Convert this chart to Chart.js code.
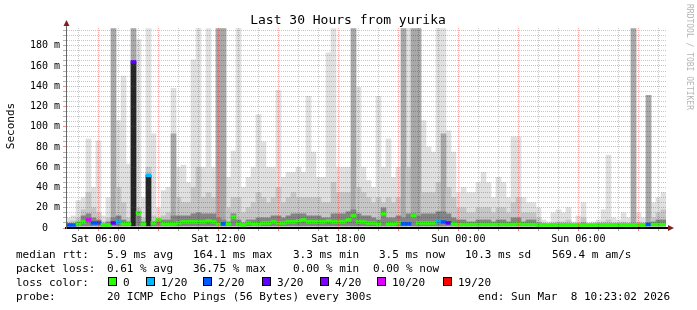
<!DOCTYPE html>
<html>
<head>
<meta charset="utf-8">
<script src="https://cdn.jsdelivr.net/npm/chart.js@4.4.1/dist/chart.umd.min.js"></script>
<style>
  html, body { margin: 0; padding: 0; background: #fff; overflow: hidden; }
  canvas { display: block; }
</style>
</head>
<body>
<canvas id="smokeChart" width="697" height="310"></canvas>
<script>
// Smoke data, one value per 15 minute bin (30 hours = 120 bins), in ms
const maxRtt = [
  10, 12, 27, 30, 88, 40, 86, 12, 30, 197, 106, 150, 63, 197, 186, 30, 197, 93, 20, 37, 40, 138, 60, 62, 45, 166, 197, 60, 197, 60,
  197, 197, 50, 76, 197, 40, 50, 60, 112, 85, 60, 60, 136, 50, 55, 55, 60, 55, 130, 75, 50, 50, 173, 197, 60, 60, 60, 197, 139, 60,
  47, 40, 130, 60, 88, 50, 60, 197, 197, 197, 197, 106, 80, 75, 197, 197, 96, 75, 35, 40, 35, 35, 45, 55, 45, 30, 50, 45, 30, 90,
  90, 30, 25, 25, 20, 8, 6, 15, 18, 15, 20, 6, 12, 25, 5, 6, 8, 18, 72, 10, 8, 15, 10, 197, 15, 10, 131, 25, 30, 35
];
const midRtt = [
  6, 7, 10, 18, 35, 20, 15, 6, 10, 197, 40, 25, 10, 197, 20, 10, 60, 12, 10, 12, 15, 93, 30, 25, 25, 40, 60, 30, 35, 30,
  197, 197, 20, 30, 30, 15, 20, 25, 35, 30, 25, 30, 40, 25, 30, 35, 30, 30, 30, 30, 30, 25, 25, 45, 35, 35, 35, 197, 40, 35,
  30, 25, 30, 25, 30, 25, 30, 197, 60, 197, 197, 35, 35, 35, 45, 93, 40, 30, 20, 20, 15, 15, 20, 20, 20, 15, 20, 20, 15, 25,
  30, 15, 15, 15, 10, 5, 4, 5, 6, 6, 8, 4, 5, 10, 3.5, 4, 5, 6, 8, 5, 5, 6, 5, 197, 6, 5, 131, 10, 15, 18
];
const darkRtt = [
  4, 4, 6, 12, 14, 10, 8, 4, 6, 10, 12, 8, 6, 164, 12, 6, 52, 6, 8, 8, 8, 12, 12, 12, 12, 14, 15, 14, 14, 14,
  10, 8, 6, 14, 8, 5, 8, 8, 10, 10, 10, 12, 12, 10, 12, 14, 14, 14, 12, 12, 12, 10, 10, 14, 14, 14, 16, 18, 14, 12,
  12, 10, 8, 20, 10, 10, 12, 10, 14, 14, 12, 14, 14, 14, 16, 16, 14, 10, 8, 8, 6, 6, 8, 8, 8, 6, 8, 8, 6, 10,
  10, 6, 8, 8, 5, 4, 3, 4, 4, 4, 4, 3, 4, 5, 3, 3, 4, 4, 4, 4, 4, 4, 4, 4, 4, 4, 5, 6, 8, 8
];
const medianRtt = [
  3, 3, 4, 6, 8, 5, 5, 3, 3, 5, 6, 4, 4, 164, 15, 4, 52, 5, 8, 4, 4, 4, 5, 6, 6, 6, 6, 6, 7, 6,
  4, 4, 4, 11, 4, 3, 5, 4, 4, 5, 5, 6, 5, 5, 6, 6, 7, 8, 6, 6, 6, 6, 7, 6, 6, 6, 8, 12, 6, 6,
  5, 5, 4, 14, 4, 4, 5, 4, 4, 12, 5, 5, 5, 5, 7, 6, 5, 4, 3.5, 3.5, 3.5, 3.5, 3.5, 3.5, 3.5, 3.5, 3.5, 3.5, 3.5, 3.5,
  4, 3.5, 3.5, 3.5, 3, 3, 3, 3, 3, 3, 3, 3, 3, 3, 3, 3, 3, 3, 3, 3, 3, 3, 3, 3, 3, 3, 3.5, 3.5, 3.5, 3.5
];
// index into lossColors for each bin
const lossLevel = [
  2, 2, 0, 0, 5, 2, 2, 0, 0, 3, 1, 0, 0, 3, 0, 0, 1, 0, 0, 0, 0, 0, 0, 0, 0, 0, 0, 0, 0, 0,
  0, 2, 0, 0, 0, 0, 0, 0, 0, 0, 0, 0, 0, 0, 0, 0, 0, 0, 0, 0, 0, 0, 0, 0, 0, 0, 0, 0, 0, 0,
  0, 0, 0, 0, 0, 0, 0, 2, 2, 0, 0, 0, 0, 0, 1, 2, 3, 0, 0, 0, 0, 0, 0, 0, 0, 0, 0, 0, 0, 0,
  0, 0, 0, 0, 0, 0, 0, 0, 0, 0, 0, 0, 0, 0, 0, 0, 0, 0, 0, 0, 0, 0, 0, 0, 0, 0, 2, 0, 0, 0
];
const lossColors = ["#26ff00", "#00b8ff", "#0059ff", "#5e00ff", "#7e00ff", "#dd00ff", "#ff0000"];
const lossLabels = ["0", "1/20", "2/20", "3/20", "4/20", "10/20", "19/20"];
const xTickLabels = ["Sat 06:00", "Sat 12:00", "Sat 18:00", "Sun 00:00", "Sun 06:00"];

// time axis: minutes since start (Sat 04:23:02), 30 hours
const BIN = 15;
const SPAN = 1800;
const firstHour = 60 - 23 - 2 / 60; // minutes until Sat 05:00
const binX = maxRtt.map((_, i) => i * BIN + BIN / 2);
const hourTicks = [];
for (let k = 0; k < 30; k++) hourTicks.push(firstHour + 60 * k);
const hourOf = (v) => 5 + Math.round((v - firstHour) / 60);

const Y_MAX = 197.5;
const yTicks = [];
for (let v = 0; v < Y_MAX; v += 5) yTicks.push(v);

const mono = "'DejaVu Sans Mono', monospace";
Chart.defaults.font.family = mono;
Chart.defaults.color = "#000";

const pts = (arr) => arr.map((v, i) => ({ x: binX[i], y: v }));
const barCommon = {
  type: "bar",
  base: 2,
  borderWidth: 0,
  barPercentage: 1,
  categoryPercentage: 1,
  grouped: false,
};

const overlay = {
  id: "overlay",
  afterDraw(chart) {
    const ctx = chart.ctx;
    const a = chart.chartArea;
    ctx.save();

    // title
    ctx.fillStyle = "#000";
    ctx.font = "13px " + mono;
    ctx.textAlign = "center";
    ctx.textBaseline = "alphabetic";
    ctx.fillText("Last 30 Hours from yurika", 348, 24);

    // y axis title
    ctx.save();
    ctx.translate(11, 126);
    ctx.rotate(-Math.PI / 2);
    ctx.font = "11px " + mono;
    ctx.textBaseline = "middle";
    ctx.fillText("Seconds", 0, 0);
    ctx.restore();

    // watermark
    ctx.save();
    ctx.translate(689, 4);
    ctx.rotate(Math.PI / 2);
    ctx.font = "8px " + mono;
    ctx.fillStyle = "#b4b4b4";
    ctx.textAlign = "left";
    ctx.textBaseline = "middle";
    ctx.fillText("RRDTOOL / TOBI OETIKER", 0, 0);
    ctx.restore();

    // axis extensions and arrows
    ctx.strokeStyle = "#000";
    ctx.lineWidth = 2;
    ctx.beginPath();
    ctx.moveTo(a.right, a.bottom);
    ctx.lineTo(a.right + 3, a.bottom);
    ctx.stroke();
    ctx.strokeStyle = "#666";
    ctx.lineWidth = 1;
    ctx.beginPath();
    ctx.moveTo(a.left + 0.5, a.top);
    ctx.lineTo(a.left + 0.5, a.top - 3);
    ctx.stroke();
    ctx.fillStyle = "#7f1f1f";
    ctx.beginPath();
    ctx.moveTo(a.left - 2.5, a.top - 2);
    ctx.lineTo(a.left + 3.5, a.top - 2);
    ctx.lineTo(a.left + 0.5, a.top - 8);
    ctx.closePath();
    ctx.fill();
    ctx.beginPath();
    ctx.moveTo(a.right + 2, a.bottom - 3);
    ctx.lineTo(a.right + 2, a.bottom + 3);
    ctx.lineTo(a.right + 8, a.bottom);
    ctx.closePath();
    ctx.fill();

    // legend
    ctx.fillStyle = "#000";
    ctx.font = "11px " + mono;
    ctx.textAlign = "left";
    ctx.textBaseline = "alphabetic";
    const rows = [
      [258, [["median rtt:", 16], ["5.9 ms avg", 107], ["164.1 ms max", 193], ["3.3 ms min", 293],
             ["3.5 ms now", 379], ["10.3 ms sd", 465], ["569.4 m am/s", 552]]],
      [272, [["packet loss:", 16], ["0.61 % avg", 107], ["36.75 % max", 193], ["0.00 % min", 293],
             ["0.00 % now", 373]]],
      [286, [["loss color:", 16]]],
      [300, [["probe:", 16], ["20 ICMP Echo Pings (56 Bytes) every 300s", 107],
             ["end: Sun Mar  8 10:23:02 2026", 478]]],
    ];
    rows.forEach(([y, items]) => items.forEach(([t, x]) => ctx.fillText(t, x, y)));

    const boxX = [108, 146, 203, 262, 320, 377, 443];
    lossLabels.forEach((lbl, i) => {
      ctx.fillStyle = lossColors[i];
      ctx.fillRect(boxX[i], 277, 8, 8);
      ctx.strokeStyle = "#000";
      ctx.lineWidth = 1;
      ctx.strokeRect(boxX[i] + 0.5, 277.5, 8, 8);
      ctx.fillStyle = "#000";
      ctx.fillText(lbl, boxX[i] + 15, 286);
    });

    ctx.restore();
  },
};

new Chart(document.getElementById("smokeChart"), {
  type: "bar",
  data: {
    datasets: [
      {
        ...barCommon,
        label: "median",
        data: medianRtt.map((v, i) => ({ x: binX[i], y: [v - 1.4, v + 1.4] })),
        backgroundColor: lossLevel.map((l) => lossColors[l]),
      },
      {
        ...barCommon,
        label: "dark",
        data: pts(darkRtt),
        backgroundColor: darkRtt.map((v) => (v > 40 ? "#262626" : "#858585")),
      },
      {
        ...barCommon,
        label: "mid",
        data: pts(midRtt),
        backgroundColor: midRtt.map((v) => (v > 90 ? "#a8a8a8" : "#c6c6c6")),
      },
      {
        ...barCommon,
        label: "max",
        data: pts(maxRtt),
        backgroundColor: "#e0e0e0",
      },
    ],
  },
  options: {
    responsive: false,
    animation: false,
    devicePixelRatio: 1,
    layout: { padding: { left: 0, right: 31, top: 28, bottom: 0 } },
    plugins: { legend: { display: false }, tooltip: { enabled: false } },
    scales: {
      x: {
        type: "linear",
        min: 0,
        max: SPAN,
        offset: false,
        afterFit: (s) => { s.height = 82; },
        afterBuildTicks: (s) => { s.ticks = hourTicks.map((v) => ({ value: v })); },
        grid: {
          offset: false,
          z: 1,
          tickLength: 3,
          color: (c) => (hourOf(c.tick.value) % 3 === 0 ? "rgba(255,0,0,0.35)" : "rgba(0,0,0,0.22)"),
          tickColor: (c) => (hourOf(c.tick.value) % 3 === 0 ? "rgba(255,0,0,0.45)" : "rgba(0,0,0,0.3)"),
        },
        border: { color: "#000", width: 2, dash: [1, 1], z: 2 },
        ticks: {
          autoSkip: false,
          maxRotation: 0,
          padding: 2,
          font: { size: 10, family: mono },
          callback: (v) => {
            const h = hourOf(v);
            return h % 6 === 0 ? xTickLabels[h / 6 - 1] : "";
          },
        },
      },
      y: {
        type: "linear",
        min: 0,
        max: Y_MAX,
        afterFit: (s) => { s.width = 66; },
        afterBuildTicks: (s) => { s.ticks = yTicks.map((v) => ({ value: v })); },
        grid: {
          z: 1,
          tickLength: 3,
          color: (c) => (c.tick.value % 20 === 0 ? "rgba(255,0,0,0.35)" : "rgba(0,0,0,0.22)"),
          tickColor: (c) => (c.tick.value % 20 === 0 ? "rgba(255,0,0,0.45)" : "rgba(0,0,0,0.3)"),
        },
        border: { color: "#666", width: 1, dash: [1, 1], z: 2 },
        ticks: {
          autoSkip: false,
          padding: 3,
          font: { size: 10, family: mono },
          callback: (v) => (v === 0 ? "0  " : v % 20 === 0 ? v + " m" : ""),
        },
      },
    },
  },
  plugins: [overlay],
});
</script>
</body>
</html>
